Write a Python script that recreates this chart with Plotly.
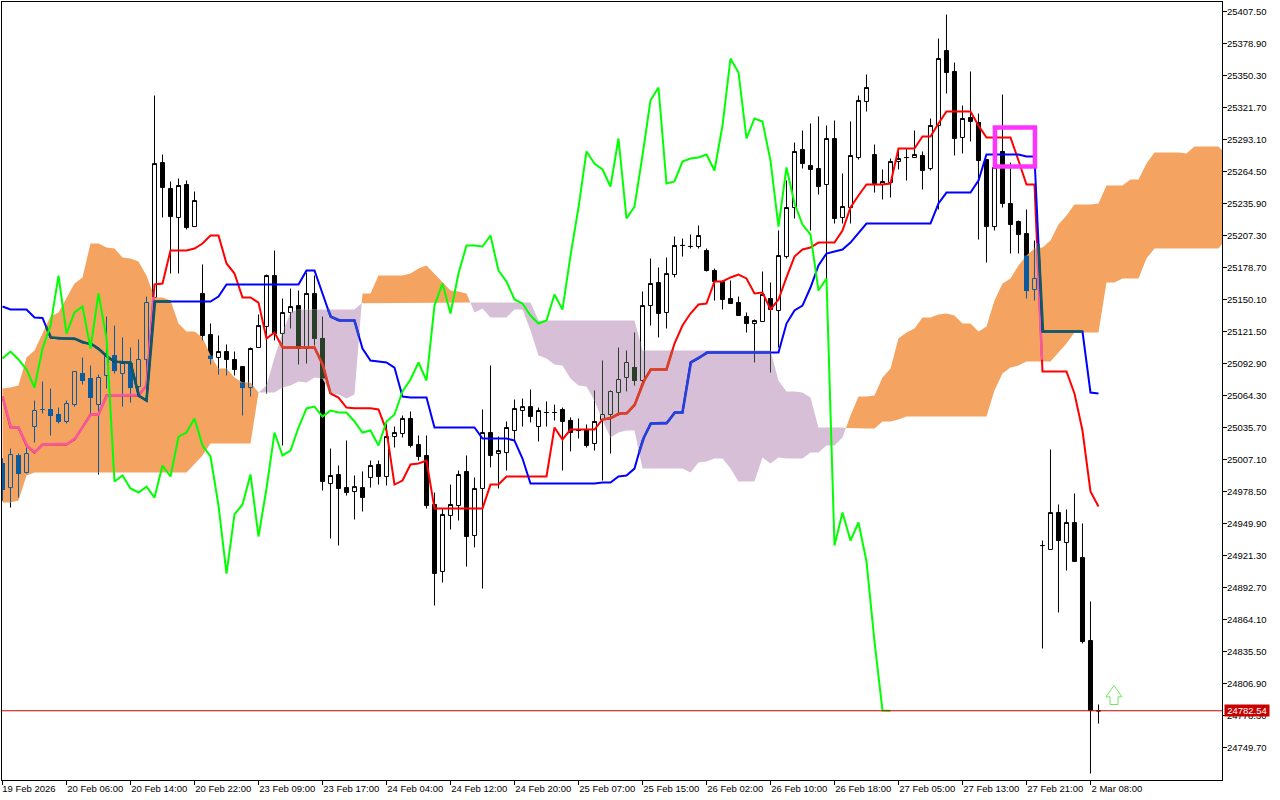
import numpy as np
import plotly.graph_objects as go

# ---------- data ----------
opens = [25003.5,24982.0,25010.6,24995.5,25036.6,25051.8,25051.8,25047.3,25041.1,25056.2,
25083.9,25079.5,25056.2,25082.2,25100.0,25083.9,25092.9,25072.3,25096.5,25151.9,
25272.5,25249.3,25223.4,25252.9,25215.3,25155.5,25118.8,25098.3,25103.6,25096.5,
25090.2,25071.4,25107.2,25126.0,25171.5,25119.7,25138.5,25144.7,25106.3,25155.5,
25115.3,24985.6,24993.7,24982.0,24978.5,24982.0,24991.0,25002.6,24991.9,25027.6,
25030.3,25043.8,25020.5,25010.7,24966.9,24907.0,24957.1,24966.0,24996.4,24939.2,
24981.2,25031.2,25012.4,25013.3,25033.0,25050.9,25054.4,25036.6,25049.1,25049.1,
25051.8,25042.0,25033.0,25033.9,25021.4,25042.9,25047.3,25067.0,25080.4,25089.3,
25077.7,25144.7,25165.3,25138.5,25172.4,25198.4,25197.5,25197.5,25193.9,25176.0,
25166.2,25151.0,25147.4,25134.9,25128.6,25130.4,25151.0,25140.3,25188.5,25232.3,
25284.2,25269.9,25267.2,25252.9,25294.0,25223.4,25232.3,25277.0,25327.1,25279.7,
25252.9,25254.7,25273.4,25277.0,25277.0,25278.8,25267.2,25305.6,25372.6,25353.9,
25294.9,25312.8,25308.3,25275.2,25215.3,25282.4,25235.9,25219.8,25209.1,25159.0,
24930.2,24926.7,24959.7,24932.9,24950.8,24919.5,24845.3,24782.5]

highs = [25008.0,25016.9,25012.4,25017.8,25059.8,25076.8,25070.5,25053.5,25059.8,25085.7,
25098.2,25091.1,25083.0,25134.9,25126.8,25116.2,25107.2,25114.4,25152.7,25332.4,
25279.7,25255.6,25258.2,25256.5,25246.6,25181.4,25128.6,25117.9,25109.9,25103.6,
25090.2,25107.2,25136.7,25172.4,25193.9,25151.0,25159.9,25158.1,25174.2,25171.5,
25134.9,25016.9,25001.7,25024.1,24992.8,24996.4,25006.2,25006.2,25039.3,25036.6,
25046.4,25050.0,25028.5,25028.5,24977.6,24963.3,24984.7,24997.3,25010.7,24991.0,
25051.8,25091.1,25027.6,25041.1,25060.7,25061.6,25069.6,25053.5,25059.0,25056.2,
25053.5,25044.7,25043.8,25038.4,25068.8,25095.6,25068.8,25107.2,25104.5,25120.6,
25157.2,25186.7,25178.7,25187.6,25206.4,25204.6,25208.2,25216.2,25195.7,25177.8,
25167.1,25167.1,25152.7,25138.5,25132.2,25175.1,25165.3,25211.8,25256.5,25290.4,
25301.1,25307.4,25313.7,25305.6,25310.1,25262.7,25309.2,25332.4,25351.2,25288.6,
25266.3,25276.1,25285.0,25285.0,25301.1,25282.4,25311.9,25383.4,25404.8,25361.9,
25323.5,25353.9,25316.3,25275.2,25274.3,25333.3,25272.5,25220.7,25230.5,25202.8,
24934.7,25016.0,24966.9,24962.4,24976.7,24949.9,24880.2,24788.1]

lows = [24970.5,24964.2,24973.1,24994.6,25022.3,25048.2,25028.5,25039.3,25039.3,25054.4,
25074.1,25047.3,24993.7,25070.5,25083.9,25054.4,25058.0,25068.8,25061.6,25151.9,
25223.4,25173.3,25173.3,25212.7,25215.3,25113.5,25092.0,25083.0,25082.2,25082.2,
25046.4,25063.4,25107.2,25066.0,25113.5,25019.6,25124.2,25092.0,25092.9,25109.0,
24979.4,24936.5,24930.2,24974.9,24953.5,24960.6,24982.0,24984.7,24983.8,25017.8,
25026.8,25017.8,25006.2,24963.3,24876.6,24897.2,24944.5,24952.6,24911.4,24928.5,
24891.8,25000.0,24981.2,24997.3,25024.1,25036.6,25040.2,25023.2,25036.6,25042.0,
24997.3,25014.3,25025.9,25017.8,25015.1,24988.3,25012.4,25046.4,25067.9,25073.2,
25075.0,25126.8,25116.2,25124.2,25169.8,25188.5,25195.7,25195.7,25175.1,25149.2,
25141.2,25146.5,25135.8,25120.6,25093.8,25130.4,25084.8,25107.2,25186.7,25222.5,
25267.2,25211.8,25244.0,25164.4,25218.0,25218.0,25218.0,25275.2,25318.1,25245.7,
25239.5,25241.3,25266.3,25256.5,25277.0,25248.4,25265.4,25230.5,25334.2,25278.8,
25280.6,25291.3,25203.7,25183.2,25211.8,25232.3,25191.2,25191.2,25151.0,25149.2,
24838.2,24926.7,24870.4,24907.9,24916.0,24842.7,24726.4,24771.1]

closes = [24980.3,25011.5,24994.6,25012.4,25050.9,25051.8,25046.4,25041.1,25057.1,25085.7,
25077.7,25062.5,25080.4,25099.2,25086.6,25092.9,25071.4,25096.5,25147.4,25271.6,
25250.2,25224.2,25252.0,25214.4,25238.6,25117.9,25097.4,25103.6,25096.5,25087.5,
25071.4,25106.3,25126.8,25171.5,25119.7,25138.5,25143.8,25106.3,25155.5,25115.3,
24987.4,24992.8,24981.2,24977.6,24982.9,24973.1,25001.7,24991.9,25027.6,25031.2,
25043.8,25019.6,25009.8,24966.0,24905.2,24958.0,24966.9,24993.7,24938.3,24981.2,
25031.2,25010.7,25015.1,25035.7,25052.7,25054.4,25045.5,25050.9,25049.1,25049.1,
25041.1,25031.2,25033.0,25019.6,25041.1,25047.3,25067.9,25078.6,25093.8,25077.7,
25144.7,25164.4,25137.6,25173.3,25198.4,25198.4,25197.5,25207.3,25176.0,25166.2,
25150.1,25146.5,25135.8,25128.6,25131.3,25154.6,25141.2,25189.4,25232.3,25282.4,
25271.6,25266.3,25251.1,25294.0,25222.5,25233.2,25278.8,25328.0,25339.6,25253.8,
25255.6,25273.4,25276.1,25277.0,25279.7,25265.4,25305.6,25365.5,25353.0,25294.0,
25311.9,25309.2,25274.3,25215.3,25268.1,25235.9,25217.1,25208.2,25158.1,25168.9,
24930.2,24959.7,24934.7,24950.8,24916.0,24844.4,24782.8,24782.5]

tenkan = [25063.4,25035.7,25035.7,25019.6,25013.3,25020.5,25020.5,25020.5,25020.5,25025.0,
25035.7,25047.3,25047.3,25064.3,25064.3,25064.3,25064.3,25064.3,25073.2,25163.5,
25164.4,25193.9,25193.9,25193.9,25195.7,25200.1,25207.3,25207.3,25182.3,25173.3,
25151.9,25151.9,25147.4,25115.3,25120.6,25107.2,25107.2,25107.2,25107.2,25107.2,
25092.9,25066.1,25062.5,25053.5,25053.0,25053.0,25053.0,25051.8,25033.0,24984.7,
24988.3,25002.6,25003.5,25006.2,24963.3,24963.3,24963.3,24963.3,24963.3,24963.3,
24963.3,24984.7,24984.7,24991.9,24991.9,24991.9,24991.9,24991.9,24991.9,25035.7,
25025.0,25033.9,25033.9,25033.9,25033.9,25042.9,25043.8,25048.2,25048.2,25055.3,
25075.0,25087.5,25087.5,25087.5,25110.8,25126.8,25137.6,25145.6,25146.5,25166.2,
25166.2,25169.8,25172.4,25168.9,25155.5,25156.4,25141.2,25150.1,25169.8,25188.5,
25194.8,25196.6,25201.0,25201.0,25201.0,25211.8,25232.3,25243.1,25252.9,25252.9,
25252.9,25253.8,25285.0,25285.0,25285.0,25295.8,25295.8,25307.4,25318.1,25318.1,
25318.1,25318.1,25305.6,25294.9,25294.9,25294.9,25294.9,25274.3,25252.9,25252.9,
25085.8,25085.8,25085.8,25085.8,25066.1,25033.0,24978.5,24965.1]

kijun = [25143.8,25141.2,25141.2,25141.2,25134.0,25133.6,25116.2,25115.3,25115.3,25115.3,
25111.7,25110.8,25106.3,25099.2,25094.7,25093.8,25093.8,25064.3,25059.8,25148.3,
25148.3,25148.3,25148.3,25148.3,25148.3,25148.3,25148.3,25152.7,25163.5,25163.5,
25163.5,25163.5,25163.5,25163.5,25163.5,25163.5,25163.5,25163.5,25176.0,25176.0,
25155.5,25134.9,25131.3,25131.3,25131.3,25106.3,25095.6,25094.7,25093.8,25089.3,
25063.4,25062.5,25062.5,25062.5,25035.7,25035.7,25035.7,25035.7,25035.7,25035.7,
25025.9,25025.9,25025.9,25025.9,25024.1,25008.0,24985.6,24985.6,24985.6,24985.6,
24985.6,24985.6,24985.6,24985.6,24985.6,24986.5,24986.5,24991.9,24992.8,24999.0,
25024.1,25039.3,25039.3,25039.3,25049.1,25049.1,25093.8,25097.4,25102.7,25102.7,
25102.7,25102.7,25102.7,25102.7,25102.7,25102.7,25102.7,25102.7,25128.6,25140.3,
25144.7,25160.8,25180.5,25191.2,25193.0,25194.8,25201.0,25209.9,25218.0,25218.0,
25218.0,25218.0,25218.0,25218.0,25218.0,25218.0,25218.0,25235.9,25245.7,25245.7,
25245.7,25245.7,25256.5,25279.7,25279.7,25279.7,25279.7,25279.7,25277.9,25277.9,
25121.5,25121.5,25121.5,25121.5,25121.5,25121.5,25067.0,25066.1]

chikou = [25097.4,25103.6,25096.5,25087.5,25071.4,25106.3,25126.8,25171.5,25119.7,25138.5,
25143.8,25106.3,25155.5,25115.3,24987.4,24992.8,24981.2,24977.6,24982.9,24973.1,
25001.7,24991.9,25027.6,25031.2,25043.8,25019.6,25009.8,24966.0,24905.2,24958.0,
24966.9,24993.7,24938.3,24981.2,25031.2,25010.7,25015.1,25035.7,25052.7,25054.4,
25045.5,25050.9,25049.1,25049.1,25041.1,25031.2,25033.0,25019.6,25041.1,25047.3,
25067.9,25078.6,25093.8,25077.7,25144.7,25164.4,25137.6,25173.3,25198.4,25198.4,
25197.5,25207.3,25176.0,25166.2,25150.1,25146.5,25135.8,25128.6,25131.3,25154.6,
25141.2,25189.4,25232.3,25282.4,25271.6,25266.3,25251.1,25294.0,25222.5,25233.2,
25278.8,25328.0,25339.6,25253.8,25255.6,25273.4,25276.1,25277.0,25279.7,25265.4,
25305.6,25365.5,25353.0,25294.0,25311.9,25309.2,25274.3,25215.3,25268.1,25235.9,
25217.1,25208.2,25158.1,25168.9,24930.2,24959.7,24934.7,24950.8,24916.0,24844.4,
24782.8,24782.5]

span_a = [25070.5,25071.4,25073.2,25098.3,25104.5,25119.7,25134.9,25138.5,25151.0,25164.4,
25169.8,25200.1,25200.1,25196.6,25195.7,25187.6,25186.7,25184.1,25171.5,25151.9,
25151.9,25149.2,25128.6,25121.5,25121.5,25116.2,25100.0,25088.4,25088.4,25080.4,
25075.9,25075.9,25067.0,25067.0,25067.0,25071.4,25073.2,25076.8,25075.9,25080.4,
25079.5,25066.1,25065.2,25061.6,25065.2,25155.5,25155.5,25171.5,25171.5,25171.5,
25171.5,25173.3,25177.8,25180.5,25173.3,25165.3,25158.1,25157.3,25155.5,25138.5,
25142.0,25134.0,25134.0,25134.0,25141.2,25141.2,25122.4,25100.0,25097.4,25092.0,
25091.1,25079.5,25073.2,25072.3,25059.8,25042.0,25026.8,25031.2,25033.0,25033.0,
24999.0,24999.0,24999.0,24999.0,24999.0,24999.0,24995.5,25004.4,25005.3,25008.0,
25008.0,24999.0,24987.4,24987.4,24987.4,25008.9,25003.5,25008.9,25008.0,25008.0,
25008.0,25013.3,25013.3,25019.6,25019.6,25026.8,25046.4,25063.4,25063.4,25064.3,
25080.4,25088.4,25115.3,25120.6,25124.2,25134.0,25134.0,25136.7,25137.6,25135.8,
25128.6,25128.6,25121.5,25126.0,25149.2,25164.4,25168.9,25180.5,25189.4,25195.7,
25196.6,25202.8,25217.1,25225.2,25235.0,25235.0,25235.0,25235.9,25252.0,25252.0,
25252.0,25257.3,25257.3,25271.6,25281.5,25281.5,25281.5,25281.5,25280.6,25286.8,
25286.8,25286.8,25286.8,25279.7]

span_b = [24968.7,24968.7,24970.5,24992.8,24995.5,24995.5,24995.5,24995.5,24995.5,24995.5,
24995.5,24995.5,24995.5,24995.5,24995.5,24995.5,24995.5,24995.5,24995.5,24995.5,
24995.5,24995.5,24995.5,24995.5,25003.5,25010.7,25021.4,25021.4,25021.4,25021.4,
25021.4,25021.4,25067.0,25073.2,25098.3,25120.6,25138.5,25141.2,25141.2,25141.2,
25141.2,25141.2,25141.2,25141.2,25141.2,25147.4,25147.4,25147.4,25147.4,25147.4,
25147.4,25147.4,25147.4,25147.4,25147.4,25147.4,25147.4,25147.4,25147.4,25147.4,
25147.4,25147.4,25147.4,25147.4,25147.4,25147.4,25147.4,25131.3,25131.3,25131.3,
25131.3,25131.3,25131.3,25131.3,25131.3,25131.3,25131.3,25131.3,25131.3,25131.3,
25104.5,25104.5,25104.5,25104.5,25104.5,25104.5,25104.5,25104.5,25104.5,25104.5,
25104.5,25104.5,25104.5,25104.5,25104.5,25104.5,25104.5,25077.7,25067.9,25067.9,
25067.0,25062.5,25035.7,25035.7,25035.7,25035.7,25034.8,25034.8,25034.8,25034.8,
25041.1,25041.1,25042.9,25045.5,25045.5,25045.5,25045.5,25045.5,25045.5,25045.5,
25045.5,25045.5,25045.5,25045.5,25068.8,25083.9,25089.3,25091.1,25094.7,25094.7,
25094.7,25094.7,25102.6,25110.8,25120.6,25120.6,25120.6,25120.6,25165.3,25165.3,
25168.9,25168.9,25168.9,25186.7,25195.7,25195.7,25195.7,25195.7,25195.7,25195.7,
25195.7,25195.7,25195.7,25204.6]

time_labels = ["19 Feb 2026","20 Feb 06:00","20 Feb 14:00","20 Feb 22:00","23 Feb 09:00","23 Feb 17:00",
               "24 Feb 04:00","24 Feb 12:00","24 Feb 20:00","25 Feb 07:00","25 Feb 15:00","26 Feb 02:00",
               "26 Feb 10:00","26 Feb 18:00","27 Feb 05:00","27 Feb 13:00","27 Feb 21:00","2 Mar 08:00"]
price_ticks = [25407.50,25378.90,25350.30,25321.70,25293.10,25264.50,25235.90,25207.30,25178.70,25150.10,
               25121.50,25092.90,25064.30,25035.70,25007.10,24978.50,24949.90,24921.30,24892.70,24864.10,
               24835.50,24806.90,24778.30,24749.70]
last_price = 24782.54

# ---------- styling ----------
SAND, THISTLE = "#F4A460", "#D8BFD8"
BLACK_OVER = {"o": "#0B5B9F", "t": "#274027"}
RED_OVER = {"o": "#F45B9F", "t": "#D84027"}
BLUE_OVER = {"o": "#0B5B60", "t": "#2740D8"}
FONT = "Liberation Sans"
FS = 9.5
BODY_HALF = 0.25   # bars
N_BARS = len(closes)
bars = np.arange(N_BARS)
cloud_x = np.arange(len(span_a))
A, B = np.array(span_a), np.array(span_b)


def cloud_state(x, p):
    a = np.interp(x, cloud_x, A)
    b = np.interp(x, cloud_x, B)
    if min(a, b) < p < max(a, b):
        return "o" if a > b else "t"
    return None


def cloud_limits(x):
    a = np.interp(x, cloud_x, A)
    b = np.interp(x, cloud_x, B)
    return min(a, b), max(a, b), ("o" if a > b else "t")


fig = go.Figure()

# ---------- cloud polygons, split where the spans cross ----------
polys = {"o": ([], []), "t": ([], [])}
n = len(A)
run_x, run_a, run_b = [cloud_x[0]], [A[0]], [B[0]]
state = "o" if A[0] >= B[0] else "t"


def flush(st, xs, aa, bb):
    px, py = polys[st]
    px.extend(list(xs) + list(xs[::-1]) + [None])
    py.extend(list(aa) + list(bb[::-1]) + [None])


for k in range(1, n):
    s = state if A[k] == B[k] else ("o" if A[k] > B[k] else "t")
    if s != state:
        d0, d1 = A[k - 1] - B[k - 1], A[k] - B[k]
        t = d0 / (d0 - d1)
        xc = cloud_x[k - 1] + t
        yc = A[k - 1] + t * (A[k] - A[k - 1])
        run_x.append(xc); run_a.append(yc); run_b.append(yc)
        flush(state, run_x, run_a, run_b)
        run_x, run_a, run_b = [xc], [yc], [yc]
        state = s
    run_x.append(cloud_x[k]); run_a.append(A[k]); run_b.append(B[k])
flush(state, run_x, run_a, run_b)

for st, col, nm in (("o", SAND, "Kumo (A above B)"), ("t", THISTLE, "Kumo (B above A)")):
    fig.add_trace(go.Scatter(x=polys[st][0], y=polys[st][1], mode="lines", fill="toself", fillcolor=col,
                             line=dict(width=0), name=nm, hoverinfo="skip"))

# ---------- candles ----------
fig.add_trace(go.Candlestick(x=bars, open=opens, high=highs, low=lows, close=closes, name="Price",
                             whiskerwidth=0,
                             increasing=dict(line=dict(color="black", width=1), fillcolor="rgba(0,0,0,0)"),
                             decreasing=dict(line=dict(color="black", width=1), fillcolor="black"),
                             hoverinfo="skip"))

# parts of candles lying over the cloud take the inverted cloud colour
thin = {"o": ([], []), "t": ([], [])}
thick = {"o": ([], []), "t": ([], [])}


def add_vert(store, x, p0, p1):
    lo, hi, st = cloud_limits(x)
    a, b = max(min(p0, p1), lo), min(max(p0, p1), hi)
    if b > a:
        store[st][0].extend([x, x, None])
        store[st][1].extend([a, b, None])


for k in bars:
    o, h, l, c = opens[k], highs[k], lows[k], closes[k]
    top, bot = max(o, c), min(o, c)
    add_vert(thin, k, top, h)
    add_vert(thin, k, l, bot)
    if c < o:
        add_vert(thick, k, bot - 0.45, top + 0.45)
    else:
        add_vert(thin, k - BODY_HALF, bot, top)
        add_vert(thin, k + BODY_HALF, bot, top)
        for p in (top, bot):
            st = cloud_state(k, p)
            if st:
                thin[st][0].extend([k - BODY_HALF, k + BODY_HALF, None])
                thin[st][1].extend([p, p, None])

for st in ("o", "t"):
    fig.add_trace(go.Scatter(x=thick[st][0], y=thick[st][1], mode="lines",
                             line=dict(color=BLACK_OVER[st], width=5), showlegend=False, hoverinfo="skip"))
    fig.add_trace(go.Scatter(x=thin[st][0], y=thin[st][1], mode="lines",
                             line=dict(color=BLACK_OVER[st], width=1), showlegend=False, hoverinfo="skip"))


def line_with_overlay(values, color, over, name):
    xs = np.arange(len(values))
    fig.add_trace(go.Scatter(x=xs, y=values, mode="lines", line=dict(color=color, width=2), name=name,
                             hoverinfo="skip"))
    if over is None:
        return
    store = {"o": ([], []), "t": ([], [])}
    steps = 16
    prev = None
    for k in range(len(values) - 1):
        for j in range(steps):
            t0, t1 = j / steps, (j + 1) / steps
            x0, x1 = k + t0, k + t1
            y0 = values[k] + t0 * (values[k + 1] - values[k])
            y1 = values[k] + t1 * (values[k + 1] - values[k])
            st = cloud_state((x0 + x1) / 2, (y0 + y1) / 2)
            if st != prev and prev:
                store[prev][0].append(None)
                store[prev][1].append(None)
            if st:
                if st != prev:
                    store[st][0].append(x0)
                    store[st][1].append(y0)
                store[st][0].append(x1)
                store[st][1].append(y1)
            prev = st
    for st in ("o", "t"):
        fig.add_trace(go.Scatter(x=store[st][0], y=store[st][1], mode="lines",
                                 line=dict(color=over[st], width=2.6), showlegend=False, hoverinfo="skip"))


line_with_overlay(tenkan, "#FF0000", RED_OVER, "Tenkan-sen")
line_with_overlay(kijun, "#0000FF", BLUE_OVER, "Kijun-sen")
line_with_overlay(chikou, "#00FF00", None, "Chikou span")

# dummy trace that makes the second x axis (tick marks only) appear
fig.add_trace(go.Scatter(x=[None], y=[None], xaxis="x2", showlegend=False, hoverinfo="skip"))

# ---------- axes ----------
x_range = [-0.0625, 152.44]
tick_bars = [8 * k for k in range(len(time_labels))]
label_pos = [b + 0.30 * len(t) for b, t in zip(tick_bars, time_labels)]

# ---------- marks drawn on the chart ----------
box_x = [124.06, 129.06]
box_y = [25303.8, 25269.0]
arrow_c, arrow_hw = 138.94, 1.0
arrow_tip, arrow_mid, arrow_bot = 24805.1, 24795.0, 24788.1
arrow_path = (f"M{arrow_c},{arrow_tip} L{arrow_c + arrow_hw},{arrow_mid} L{arrow_c + arrow_hw / 2},{arrow_mid} "
              f"L{arrow_c + arrow_hw / 2},{arrow_bot} L{arrow_c - arrow_hw / 2},{arrow_bot} "
              f"L{arrow_c - arrow_hw / 2},{arrow_mid} L{arrow_c - arrow_hw},{arrow_mid} Z")

fig.update_layout(
    width=1280, height=800, margin=dict(l=2, r=58, t=2, b=20, pad=0),
    paper_bgcolor="white", plot_bgcolor="white", showlegend=False,
    boxgap=0.5, boxgroupgap=0, dragmode=False,
    font=dict(family=FONT, size=FS, color="black"),
    xaxis=dict(type="linear", range=x_range, tickmode="array", tickvals=label_pos, ticktext=time_labels,
               ticks="", showgrid=False, zeroline=False, rangeslider=dict(visible=False), showline=True,
               linecolor="black", linewidth=1, mirror=True, tickangle=0, ticklabeloverflow="allow",
               tickfont=dict(family=FONT, size=FS, color="black")),
    xaxis2=dict(type="linear", range=x_range, overlaying="x", anchor="y", side="bottom", tickmode="array",
                tickvals=tick_bars, showticklabels=False, ticks="outside", ticklen=4, tickwidth=1,
                tickcolor="black", showgrid=False, zeroline=False),
    yaxis=dict(range=[24720.65, 25416.0], side="right", tickmode="array", tickvals=price_ticks,
               ticktext=[f"{p:.2f}" for p in price_ticks], ticks="outside", ticklen=4, tickwidth=1,
               tickcolor="black", showgrid=False, zeroline=False, showline=True, linecolor="black",
               linewidth=1, mirror=True, ticklabelstandoff=-2, ticklabeloverflow="allow",
               tickfont=dict(family=FONT, size=FS, color="black")),
    shapes=[
        dict(type="line", xref="paper", x0=0, x1=1, yref="y", y0=last_price, y1=last_price,
             line=dict(color="#CC0000", width=1), layer="above"),
        dict(type="rect", xref="x", yref="y", x0=box_x[0], x1=box_x[1], y0=box_y[0], y1=box_y[1],
             line=dict(color="#FF33FF", width=4.5), fillcolor="rgba(0,0,0,0)", layer="above"),
        dict(type="path", xref="x", yref="y", path=arrow_path, fillcolor="white",
             line=dict(color="#70E860", width=1), layer="above"),
    ],
    annotations=[
        dict(text=f"{last_price:.2f}", xref="paper", yref="y", x=1.0205, y=last_price, xanchor="center",
             yanchor="middle", showarrow=False, bgcolor="#C80000", width=44, height=11, borderpad=0,
             font=dict(family=FONT, size=FS, color="white")),
    ],
)

fig.write_html("out.html", config=dict(displayModeBar=False, staticPlot=True),
               post_script="document.body.style.margin='0';document.body.style.overflow='hidden';")
